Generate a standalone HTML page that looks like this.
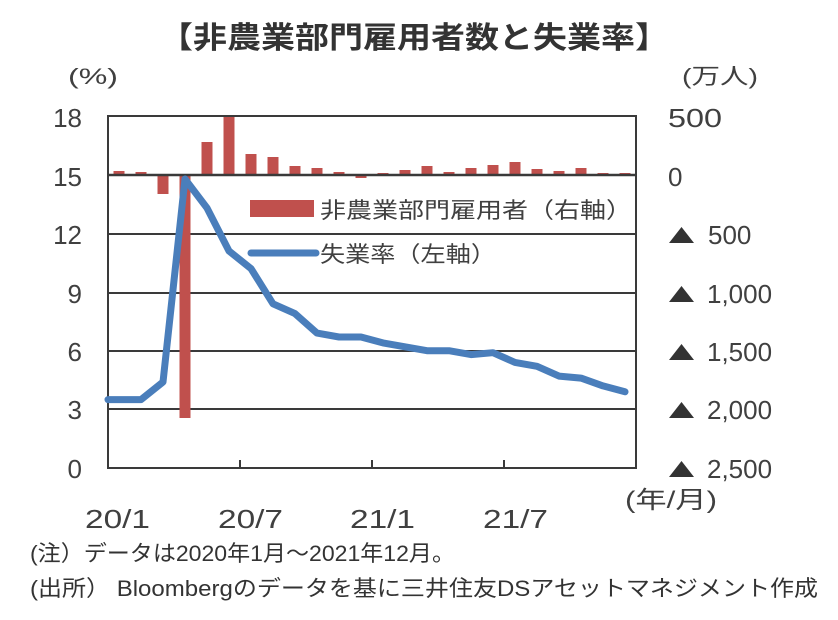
<!DOCTYPE html>
<html><head><meta charset="utf-8"><style>
html,body{margin:0;padding:0;background:#fff;}
svg{display:block;font-family:"Liberation Sans","Noto Sans CJK JP",sans-serif;}
</style></head><body>
<svg width="838" height="620" viewBox="0 0 838 620" xmlns="http://www.w3.org/2000/svg">
<rect width="838" height="620" fill="#fff"/>
<text x="414" y="48" text-anchor="middle" font-size="30" font-weight="bold" fill="#333" textLength="510" lengthAdjust="spacingAndGlyphs">【非農業部門雇用者数と失業率】</text>
<text x="68" y="84" font-size="22" fill="#404040" textLength="50" lengthAdjust="spacingAndGlyphs">(%)</text>
<text x="682" y="84" font-size="22" fill="#404040" textLength="76" lengthAdjust="spacingAndGlyphs">(万人)</text>
<g font-size="26" fill="#404040" text-anchor="end">
<text x="82" y="127">18</text><text x="82" y="186">15</text><text x="82" y="244">12</text>
<text x="82" y="303">9</text><text x="82" y="361">6</text><text x="82" y="419">3</text><text x="82" y="478">0</text>
</g>
<g font-size="26" fill="#404040">
<text x="668" y="127" textLength="54" lengthAdjust="spacingAndGlyphs">500</text>
<text x="668" y="186">0</text>
<text x="708" y="244">500</text>
<text x="707" y="303">1,000</text>
<text x="707" y="361">1,500</text>
<text x="707" y="419">2,000</text>
<text x="707" y="478">2,500</text>
</g>
<g fill="#333">
<polygon points="669,243 681.5,227 694,243"/>
<polygon points="669,302 681.5,286 694,302"/>
<polygon points="669,360 681.5,344 694,360"/>
<polygon points="669,418 681.5,402 694,418"/>
<polygon points="669,477 681.5,461 694,477"/>
</g>
<g stroke="#3a3a3a" stroke-width="2">
<line x1="108" y1="234" x2="636" y2="234"/><line x1="108" y1="293" x2="636" y2="293"/>
<line x1="108" y1="351" x2="636" y2="351"/><line x1="108" y1="409" x2="636" y2="409"/>
<rect x="108" y="116" width="528" height="352" fill="none"/>
<line x1="240" y1="468" x2="240" y2="460"/><line x1="372" y1="468" x2="372" y2="460"/><line x1="504" y1="468" x2="504" y2="460"/>
</g>
<g fill="#c0504d">
<rect x="113.5" y="171" width="11" height="4"/><rect x="135.5" y="172" width="11" height="3"/>
<rect x="157.5" y="175" width="11" height="19"/><rect x="179.5" y="175" width="11" height="243"/>
<rect x="201.5" y="142" width="11" height="33"/><rect x="223.5" y="117" width="11" height="58"/>
<rect x="245.5" y="154" width="11" height="21"/><rect x="267.5" y="157" width="11" height="18"/>
<rect x="289.5" y="166" width="11" height="9"/><rect x="311.5" y="168" width="11" height="7"/>
<rect x="333.5" y="172" width="11" height="3"/><rect x="355.5" y="175" width="11" height="3"/>
<rect x="377.5" y="173" width="11" height="2"/><rect x="399.5" y="170" width="11" height="5"/>
<rect x="421.5" y="166" width="11" height="9"/><rect x="443.5" y="172" width="11" height="3"/>
<rect x="465.5" y="168" width="11" height="7"/><rect x="487.5" y="165" width="11" height="10"/>
<rect x="509.5" y="162" width="11" height="13"/><rect x="531.5" y="169" width="11" height="6"/>
<rect x="553.5" y="171" width="11" height="4"/><rect x="575.5" y="168" width="11" height="7"/>
<rect x="597.5" y="173" width="11" height="2"/><rect x="619.5" y="173" width="11" height="2"/>
</g>
<line x1="108" y1="175" x2="636" y2="175" stroke="#3a3a3a" stroke-width="2.5"/>
<polyline fill="none" stroke="#4a7ebb" stroke-width="7" stroke-linejoin="round" stroke-linecap="round"
points="108,399.6 141,399.6 163,382 185,179 207,208 229,251 251,268.6 273,303.8 295,313.6 317,333.1 339,337 361,337 383,342.9 405,346.8 427,350.7 449,350.7 471,354.6 493,352.7 515,362.4 537,366.3 559,376.1 581,378.1 603,385.9 625,391.8"/>
<rect x="250" y="200" width="64" height="17" fill="#c0504d"/>
<text x="320" y="218" font-size="22" fill="#404040" textLength="312" lengthAdjust="spacingAndGlyphs">非農業部門雇用者（右軸）</text>
<line x1="251" y1="253" x2="316" y2="253" stroke="#4a7ebb" stroke-width="7" stroke-linecap="round"/>
<text x="320" y="262" font-size="22" fill="#404040" textLength="176" lengthAdjust="spacingAndGlyphs">失業率（左軸）</text>
<g font-size="26" fill="#404040">
<text x="85" y="528" textLength="65" lengthAdjust="spacingAndGlyphs">20/1</text>
<text x="218" y="528" textLength="65" lengthAdjust="spacingAndGlyphs">20/7</text>
<text x="350" y="528" textLength="65" lengthAdjust="spacingAndGlyphs">21/1</text>
<text x="483" y="528" textLength="65" lengthAdjust="spacingAndGlyphs">21/7</text>
<text x="625" y="508" font-size="24" textLength="92" lengthAdjust="spacingAndGlyphs">(年/月)</text>
</g>
<g font-size="22" fill="#333">
<text x="30" y="561" textLength="425" lengthAdjust="spacingAndGlyphs">(注）データは2020年1月～2021年12月。</text>
<text x="30" y="596" textLength="788" lengthAdjust="spacingAndGlyphs">(出所） Bloombergのデータを基に三井住友DSアセットマネジメント作成</text>
</g>
</svg>
</body></html>
